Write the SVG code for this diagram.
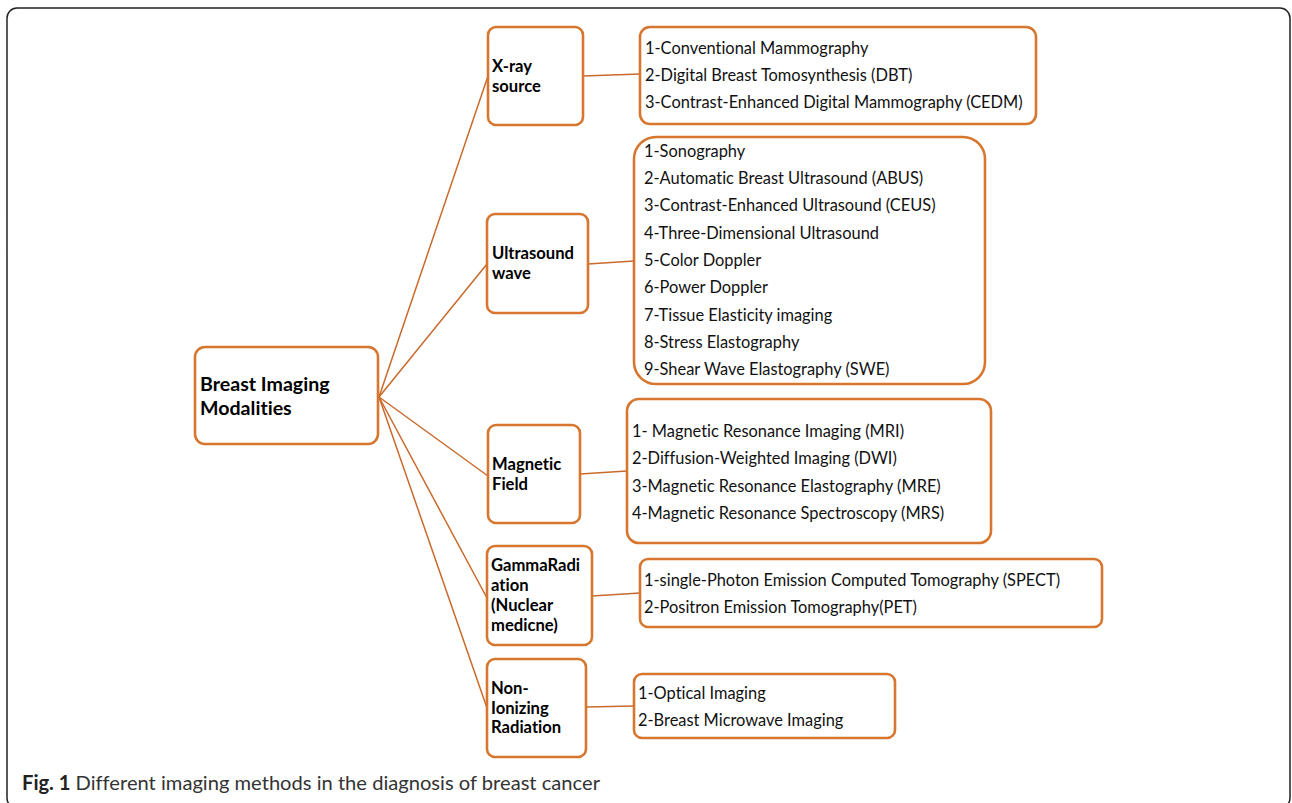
<svg xmlns="http://www.w3.org/2000/svg" width="1292" height="803" viewBox="0 0 1292 803">
<style>
text{font-variant-ligatures:none}
.box{fill:#fff;stroke:#D7772F;stroke-width:2.6}
.con{stroke:#C96A2C;stroke-width:1.5;fill:none}
.lbl{font-family:Lato,"Open Sans",sans-serif;font-weight:bold;font-size:16.6px;fill:#000}
.root{font-family:Lato,"Open Sans",sans-serif;font-weight:bold;font-size:19.6px;fill:#000}
.item{font-family:Lato,"Open Sans",sans-serif;font-size:16.4px;fill:#111}
.cap{font-family:Lato,"Open Sans",sans-serif;font-size:20px;fill:#333}
</style>
<rect x="0" y="0" width="1292" height="803" fill="#fff"/>
<rect x="7" y="8" width="1283" height="800" rx="10" fill="none" stroke="#222" stroke-width="1.5"/>
<g id="connectors">
<line class="con" x1="379" y1="397" x2="488" y2="76"/>
<line class="con" x1="379" y1="397" x2="487" y2="264"/>
<line class="con" x1="379" y1="397" x2="488" y2="476"/>
<line class="con" x1="379" y1="397" x2="487" y2="598"/>
<line class="con" x1="379" y1="397" x2="487" y2="708"/>
<line class="con" x1="583" y1="76" x2="640" y2="74"/>
<line class="con" x1="588" y1="264" x2="634" y2="261"/>
<line class="con" x1="580" y1="474" x2="627" y2="471"/>
<line class="con" x1="592" y1="596" x2="640" y2="593"/>
<line class="con" x1="586" y1="707" x2="634" y2="706"/>
</g>
<g id="root">
<rect class="box" x="195" y="347" width="183" height="97" rx="10"/>
<text class="root" x="200" y="391">Breast Imaging</text>
<text class="root" x="200" y="415">Modalities</text>
</g>
<g id="xray">
<rect class="box" x="488" y="27" width="95" height="98" rx="8"/>
<text class="lbl" x="492" y="72">X-ray</text>
<text class="lbl" x="492" y="92">source</text>
</g>
<g id="xray-list">
<rect class="box" x="640" y="27" width="396" height="97" rx="10"/>
<text class="item" x="645" y="54">1-Conventional Mammography</text>
<text class="item" x="645" y="81">2-Digital Breast Tomosynthesis (DBT)</text>
<text class="item" x="645" y="108">3-Contrast-Enhanced Digital Mammography (CEDM)</text>
</g>
<g id="ultrasound">
<rect class="box" x="487" y="214" width="101" height="99" rx="8"/>
<text class="lbl" x="492" y="259">Ultrasound</text>
<text class="lbl" x="492" y="279">wave</text>
</g>
<g id="ultrasound-list">
<rect class="box" x="634" y="137" width="351" height="247" rx="22"/>
<text class="item" x="644" y="157">1-Sonography</text>
<text class="item" x="644" y="184">2-Automatic Breast Ultrasound (ABUS)</text>
<text class="item" x="644" y="211">3-Contrast-Enhanced Ultrasound (CEUS)</text>
<text class="item" x="644" y="239">4-Three-Dimensional Ultrasound</text>
<text class="item" x="644" y="266">5-Color Doppler</text>
<text class="item" x="644" y="293">6-Power Doppler</text>
<text class="item" x="644" y="321">7-Tissue Elasticity imaging</text>
<text class="item" x="644" y="348">8-Stress Elastography</text>
<text class="item" x="644" y="375">9-Shear Wave Elastography (SWE)</text>
</g>
<g id="magnetic">
<rect class="box" x="488" y="425" width="92" height="98" rx="8"/>
<text class="lbl" x="492" y="470">Magnetic</text>
<text class="lbl" x="492" y="490">Field</text>
</g>
<g id="magnetic-list">
<rect class="box" x="627" y="399" width="364" height="144" rx="12"/>
<text class="item" x="632" y="437">1- Magnetic Resonance Imaging (MRI)</text>
<text class="item" x="632" y="464">2-Diffusion-Weighted Imaging (DWI)</text>
<text class="item" x="632" y="492">3-Magnetic Resonance Elastography (MRE)</text>
<text class="item" x="632" y="519">4-Magnetic Resonance Spectroscopy (MRS)</text>
</g>
<g id="gamma">
<rect class="box" x="487" y="546" width="105" height="99" rx="8"/>
<text class="lbl" x="491" y="571">GammaRadi</text>
<text class="lbl" x="491" y="591">ation</text>
<text class="lbl" x="491" y="611">(Nuclear</text>
<text class="lbl" x="491" y="631">medicne)</text>
</g>
<g id="gamma-list">
<rect class="box" x="640" y="559" width="462" height="68" rx="8"/>
<text class="item" x="644" y="586">1-single-Photon Emission Computed Tomography (SPECT)</text>
<text class="item" x="644" y="613">2-Positron Emission Tomography(PET)</text>
</g>
<g id="nonionizing">
<rect class="box" x="487" y="659" width="99" height="98" rx="8"/>
<text class="lbl" x="491" y="694">Non-</text>
<text class="lbl" x="491" y="714">Ionizing</text>
<text class="lbl" x="491" y="733">Radiation</text>
</g>
<g id="nonionizing-list">
<rect class="box" x="634" y="674" width="261" height="64" rx="8"/>
<text class="item" x="638" y="699">1-Optical Imaging</text>
<text class="item" x="638" y="726">2-Breast Microwave Imaging</text>
</g>
<text class="cap" x="22" y="790" textLength="578" lengthAdjust="spacingAndGlyphs"><tspan font-weight="bold" fill="#222">Fig. 1</tspan> Different imaging methods in the diagnosis of breast cancer</text>
</svg>
